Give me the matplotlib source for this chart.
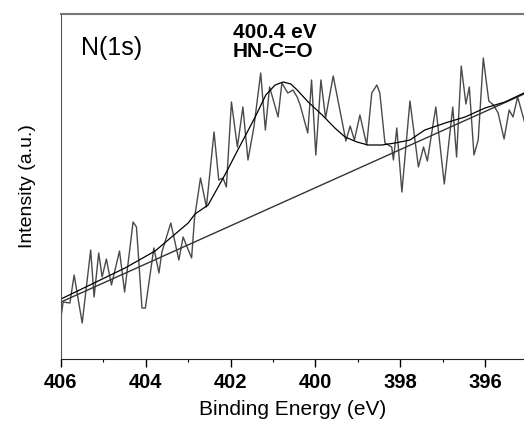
import matplotlib.pyplot as plt

# raw N(1s) spectrum (arbitrary intensity units)
energy = [406.0, 405.95, 405.79, 405.69, 405.50, 405.30, 405.22, 405.11, 405.03, 404.93,
          404.81, 404.62, 404.50, 404.30, 404.22, 404.09, 404.01, 403.81, 403.69, 403.62,
          403.41, 403.22, 403.12, 402.92, 402.85, 402.71, 402.57, 402.39, 402.28, 402.18,
          402.10, 401.98, 401.84, 401.71, 401.59, 401.45, 401.29, 401.18, 401.08, 400.88,
          400.79, 400.65, 400.53, 400.43, 400.36, 400.18, 400.09, 399.99, 399.87, 399.76,
          399.58, 399.28, 399.18, 399.08, 398.95, 398.79, 398.67, 398.55, 398.48, 398.36,
          398.20, 398.16, 398.08, 397.96, 397.77, 397.57, 397.45, 397.36, 397.16, 396.96,
          396.76, 396.67, 396.56, 396.45, 396.37, 396.26, 396.16, 396.04, 395.91, 395.80,
          395.69, 395.55, 395.43, 395.34, 395.23, 395.08, 395.0]
intensity = [42, 57, 56, 84, 36, 109, 62, 106, 82, 100,
             74, 108, 67, 137, 132, 51, 51, 111, 86, 107,
             136, 99, 122, 101, 141, 181, 152, 227, 179, 181,
             172, 257, 212, 252, 199, 232, 286, 229, 272, 242,
             276, 266, 269, 262, 254, 226, 279, 204, 279, 241,
             283, 218, 233, 219, 244, 214, 266, 274, 266, 216,
             212, 199, 231, 167, 258, 192, 212, 198, 252, 175,
             252, 202, 293, 255, 272, 204, 219, 301, 258, 254,
             246, 220, 249, 242, 262, 239, 225]

# fitted envelope (peak + background)
fit_energy = [406.0, 404.49, 403.78, 403.0, 402.84, 402.53, 402.11, 401.83, 401.42, 401.17,
              400.95, 400.76, 400.58, 400.43, 400.17, 399.84, 399.54, 399.30, 399.02, 398.76,
              398.43, 398.12, 397.77, 397.42, 396.94, 396.47, 396.0, 395.53, 395.08]
fit_intensity = [60, 91, 108, 136, 145, 154, 186, 209, 242, 264,
                 274, 277, 275, 269, 257, 244, 231, 222, 217, 214,
                 214, 216, 219, 229, 236, 242, 251, 257, 266]

# linear background
bg_energy = [406.0, 395.08]
bg_intensity = [57, 265]

fig = plt.figure(figsize=(5.24, 4.28), dpi=100)
ax = fig.add_axes([0.1164, 0.1612, 0.8836, 0.8061])

ax.plot(energy, intensity, color='#4a4a4a', lw=1.0)
ax.plot(bg_energy, bg_intensity, color='#333333', lw=1.0)
ax.plot(fit_energy, fit_intensity, color='black', lw=0.9)

ax.set_xlim(406, 395.08)
ax.set_ylim(0, 345)
ax.set_xticks([406, 404, 402, 400, 398, 396])
ax.set_xticks([405, 403, 401, 399, 397], minor=True)
ax.set_yticks([])
ax.tick_params(axis='x', which='major', length=6, width=1, pad=4,
               labelsize=14.5, direction='out')
ax.tick_params(axis='x', which='minor', length=2.5, width=0.8, direction='out')
for lab in ax.get_xticklabels():
    lab.set_fontfamily('Liberation Sans')
    lab.set_fontweight('bold')

ax.spines['right'].set_visible(False)
ax.spines['top'].set_color('#777777')
ax.spines['top'].set_linewidth(1.5)
ax.spines['left'].set_color('#555555')
ax.spines['bottom'].set_color('#222222')

ax.set_xlabel('Binding Energy (eV)', fontsize=15, family='Liberation Sans', labelpad=6)
ax.set_ylabel('Intensity (a.u.)', fontsize=14, family='Liberation Sans', labelpad=18)

ax.text(405.52, 304, 'N(1s)', fontsize=18, family='Liberation Sans')
ax.text(401.95, 321, '400.4 eV', fontsize=15, family='Liberation Sans', fontweight='bold')
ax.text(401.95, 302, 'HN-C=O', fontsize=15, family='Liberation Sans', fontweight='bold')

fig.savefig('out.png', dpi=100)
